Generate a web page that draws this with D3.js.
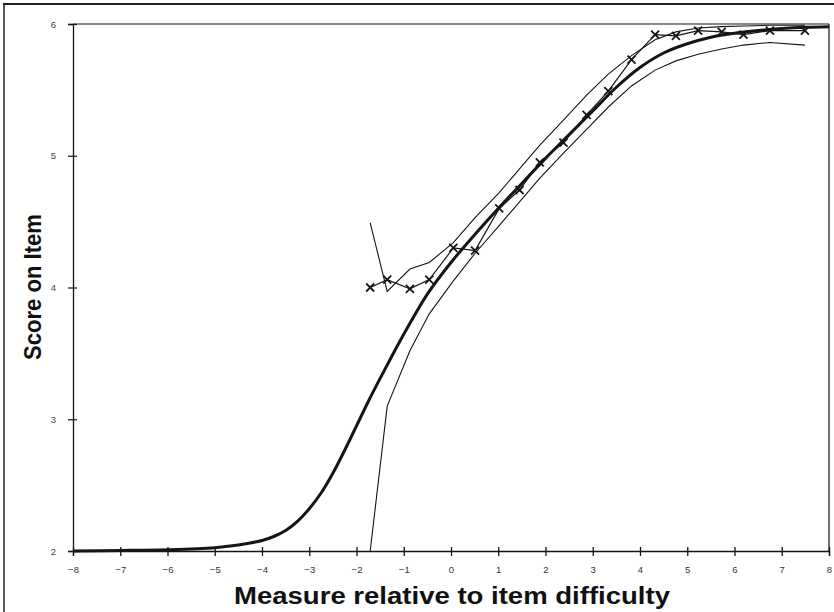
<!DOCTYPE html>
<html><head><meta charset="utf-8">
<script src="https://cdn.jsdelivr.net/npm/d3@7"></script>
<style>html,body{margin:0;padding:0;background:#fff;}svg{display:block;}</style>
</head><body>
<svg id="c" width="834" height="612"></svg>
<script>
// Model expected score curve
const modelX = [-8,-7,-6,-5,-4.5,-4.25,-4,-3.75,-3.5,-3.25,-3,-2.75,-2.5,-2.25,-2,-1.75,-1.5,-1.25,-1,-0.5,0,0.5,1,1.5,2,2.5,3,3.5,4,4.5,5,5.5,6,6.5,7,7.5,8];
const modelY = [2.0,2.004,2.01,2.025,2.045,2.06,2.08,2.11,2.155,2.225,2.32,2.44,2.59,2.765,2.95,3.135,3.31,3.48,3.645,3.95,4.19,4.4,4.6,4.79,4.98,5.16,5.34,5.52,5.67,5.78,5.85,5.9,5.93,5.95,5.965,5.975,5.98];
// Empirical (observed) points
const obsX = [-1.71,-1.35,-0.87,-0.46,0.05,0.51,1.02,1.45,1.88,2.38,2.87,3.33,3.82,4.32,4.76,5.23,5.73,6.19,6.75,7.49];
const obsY = [4.0,4.06,3.99,4.06,4.30,4.28,4.60,4.74,4.95,5.10,5.31,5.49,5.73,5.92,5.91,5.95,5.94,5.92,5.95,5.95];
// Confidence bands at the empirical points
const upperY = [4.49,3.97,4.14,4.19,4.34,4.53,4.72,4.90,5.08,5.27,5.46,5.62,5.76,5.88,5.94,5.97,5.98,5.985,5.99,5.99];
const lowerY = [2.0,3.1,3.52,3.8,4.05,4.26,4.47,4.65,4.83,5.02,5.2,5.37,5.53,5.65,5.72,5.77,5.81,5.84,5.86,5.84];
const xTicks = [-8,-7,-6,-5,-4,-3,-2,-1,0,1,2,3,4,5,6,7,8];
const yTicks = [2,3,4,5,6];

const svg = d3.select("#c");
const x = d3.scaleLinear().domain([-8,8]).range([73,829]);
const y = d3.scaleLinear().domain([2,6]).range([551,24]);
const ink = "#151515";
const font = "Liberation Sans, Arial, sans-serif";

// outer frame
svg.append("line").attr("x1",3).attr("x2",834).attr("y1",4).attr("y2",4).attr("stroke","#222").attr("stroke-width",2);
svg.append("line").attr("x1",4).attr("x2",4).attr("y1",4).attr("y2",612).attr("stroke","#222").attr("stroke-width",1.5);

// plot frame top & right
svg.append("line").attr("x1",x(-8)).attr("x2",x(8)).attr("y1",y(6)).attr("y2",y(6)).attr("stroke",ink).attr("stroke-width",1.2);
svg.append("line").attr("x1",x(8)).attr("x2",x(8)).attr("y1",y(6)).attr("y2",y(2)).attr("stroke",ink).attr("stroke-width",1.2);

// axes
const xAxis = d3.axisBottom(x).tickValues(xTicks).tickSize(5).tickFormat(d3.format("d"));
const gx = svg.append("g").attr("transform",`translate(0,${y(2)})`).call(xAxis);
gx.select(".domain").attr("stroke",ink).attr("stroke-width",1.3);
gx.selectAll(".tick line").attr("stroke",ink).attr("stroke-width",1.3).attr("y1",-4).attr("y2",5);
gx.selectAll(".tick text").attr("y",15).attr("font-family",font).attr("font-size",9.5).attr("fill","#333");

const yAxis = d3.axisLeft(y).tickValues(yTicks).tickSize(5).tickFormat(d3.format("d"));
const gy = svg.append("g").attr("transform",`translate(${x(-8)},0)`).call(yAxis);
gy.select(".domain").attr("stroke",ink).attr("stroke-width",1.3);
gy.selectAll(".tick line").attr("stroke",ink).attr("stroke-width",1.2).attr("x1",4).attr("x2",-5);
gy.selectAll(".tick text").attr("x",-17).attr("font-family",font).attr("font-size",9.5).attr("fill","#444");

// titles
svg.append("text").attr("x",452).attr("y",604).attr("text-anchor","middle")
  .attr("font-family",font).attr("font-weight","bold").attr("font-size",23)
  .attr("textLength",436).attr("lengthAdjust","spacingAndGlyphs")
  .attr("fill","#111").text("Measure relative to item difficulty");
svg.append("text").attr("transform","translate(41,287) rotate(-90)").attr("text-anchor","middle")
  .attr("font-family",font).attr("font-weight","bold").attr("font-size",23)
  .attr("textLength",146).attr("lengthAdjust","spacingAndGlyphs")
  .attr("fill","#111").text("Score on Item");

const line = d3.line().x(d=>x(d[0])).y(d=>y(d[1]));
const smooth = d3.line().x(d=>x(d[0])).y(d=>y(d[1])).curve(d3.curveCatmullRom.alpha(0.5));

// bands
svg.append("path").datum(obsX.map((v,i)=>[v,upperY[i]])).attr("d",line).attr("fill","none").attr("stroke",ink).attr("stroke-width",1.1);
svg.append("path").datum(obsX.map((v,i)=>[v,lowerY[i]])).attr("d",line).attr("fill","none").attr("stroke",ink).attr("stroke-width",1.1);
// model
svg.append("path").datum(modelX.map((v,i)=>[v,modelY[i]])).attr("d",smooth).attr("fill","none").attr("stroke",ink).attr("stroke-width",3);
// observed
svg.append("path").datum(obsX.map((v,i)=>[v,obsY[i]])).attr("d",line).attr("fill","none").attr("stroke",ink).attr("stroke-width",1.2);
const m = svg.append("g").selectAll("g").data(obsX.map((v,i)=>[v,obsY[i]])).join("g")
  .attr("transform",d=>`translate(${x(d[0])},${y(d[1])})`);
m.append("path").attr("d","M-4,-4L4,4M-4,4L4,-4").attr("stroke",ink).attr("stroke-width",1.8).attr("fill","none");
</script>
</body></html>
